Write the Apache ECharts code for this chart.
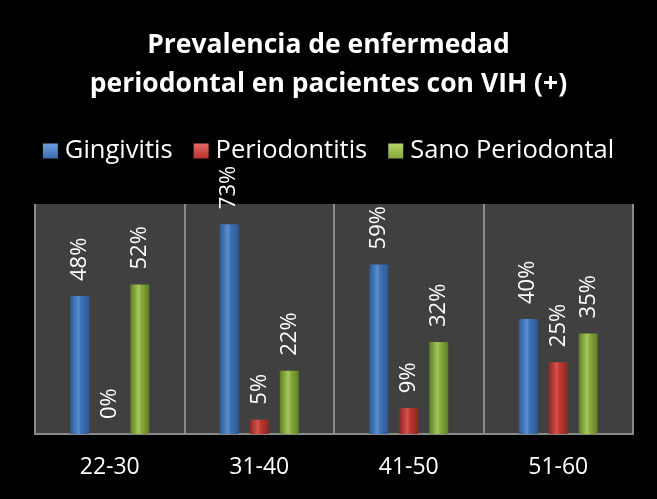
<!DOCTYPE html>
<html>
<head>
<meta charset="utf-8">
<script src="https://cdn.jsdelivr.net/npm/echarts@6/dist/echarts.min.js"></script>
<style>
  html, body { margin: 0; padding: 0; background: #000; }
  #chart { width: 657px; height: 499px; }
</style>
</head>
<body>
<div id="chart"></div>
<script>
// datos
const categorias = ["22-30", "31-40", "41-50", "51-60"];
const gingivitis = [48, 73, 59, 40];
const periodontitis = [0, 5, 9, 25];
const sanoPeriodontal = [52, 22, 32, 35];

const fuente = "'Open Sans', 'Liberation Sans', sans-serif";

// gradiente tipo cilindro
function cilindro(oscuro, medio, claro) {
  return new echarts.graphic.LinearGradient(0, 0, 1, 0, [
    { offset: 0, color: oscuro },
    { offset: 0.45, color: claro },
    { offset: 0.55, color: medio },
    { offset: 1, color: oscuro }
  ]);
}

// gradiente del icono de la leyenda
function icono(claro, medio) {
  return new echarts.graphic.LinearGradient(0, 0, 0, 1, [
    { offset: 0, color: claro },
    { offset: 1, color: medio }
  ]);
}

function serie(nombre, datos, c) {
  return {
    name: nombre,
    type: "bar",
    data: datos,
    barWidth: 19,
    barGap: "58%",
    itemStyle: { color: c },
    label: {
      show: true,
      position: "top",
      distance: 15,
      rotate: 90,
      align: "left",
      verticalAlign: "middle",
      formatter: "{c}%",
      color: "#fff",
      fontSize: 22,
      fontFamily: fuente
    }
  };
}

const chart = echarts.init(document.getElementById("chart"));
chart.setOption({
  backgroundColor: "#000",
  animation: false,
  title: {
    text: "Prevalencia de enfermedad\nperiodontal en pacientes con VIH (+)",
    left: "center",
    top: 21,
    textStyle: {
      color: "#fff",
      fontSize: 26.5,
      fontWeight: "bold",
      lineHeight: 39,
      fontFamily: fuente
    }
  },
  legend: {
    top: 133,
    left: "center",
    icon: "rect",
    itemWidth: 15,
    itemHeight: 15,
    itemGap: 21,
    textStyle: { color: "#fff", fontSize: 25.5, fontFamily: fuente, padding: [0, 0, 0, 2] },
    data: [
      { name: "Gingivitis", itemStyle: { color: icono("#6d9ee0", "#3a6db0") } },
      { name: "Periodontitis", itemStyle: { color: icono("#e06a66", "#b8322d") } },
      { name: "Sano Periodontal", itemStyle: { color: icono("#b5d46a", "#86aa3a") } }
    ]
  },
  grid: {
    left: 35,
    right: 24,
    top: 204,
    bottom: 65,
    show: true,
    backgroundColor: "#404040",
    borderWidth: 0
  },
  xAxis: {
    type: "category",
    data: categorias,
    axisLine: { lineStyle: { color: "#8a8a8a", width: 2 } },
    axisTick: { show: false },
    splitLine: { show: true, lineStyle: { color: "#8a8a8a", width: 2 } },
    axisLabel: {
      color: "#fff",
      fontSize: 23,
      margin: 22,
      fontFamily: fuente
    }
  },
  yAxis: {
    type: "value",
    min: 0,
    max: 80,
    show: false
  },
  series: [
    serie("Gingivitis", gingivitis, cilindro("#2c5a93", "#3f74b8", "#5b8fd3")),
    serie("Periodontitis", periodontitis, cilindro("#8e2624", "#c0392f", "#d9534f")),
    serie("Sano Periodontal", sanoPeriodontal, cilindro("#5f7e23", "#8cb040", "#a8c95d"))
  ]
});
</script>
</body>
</html>
